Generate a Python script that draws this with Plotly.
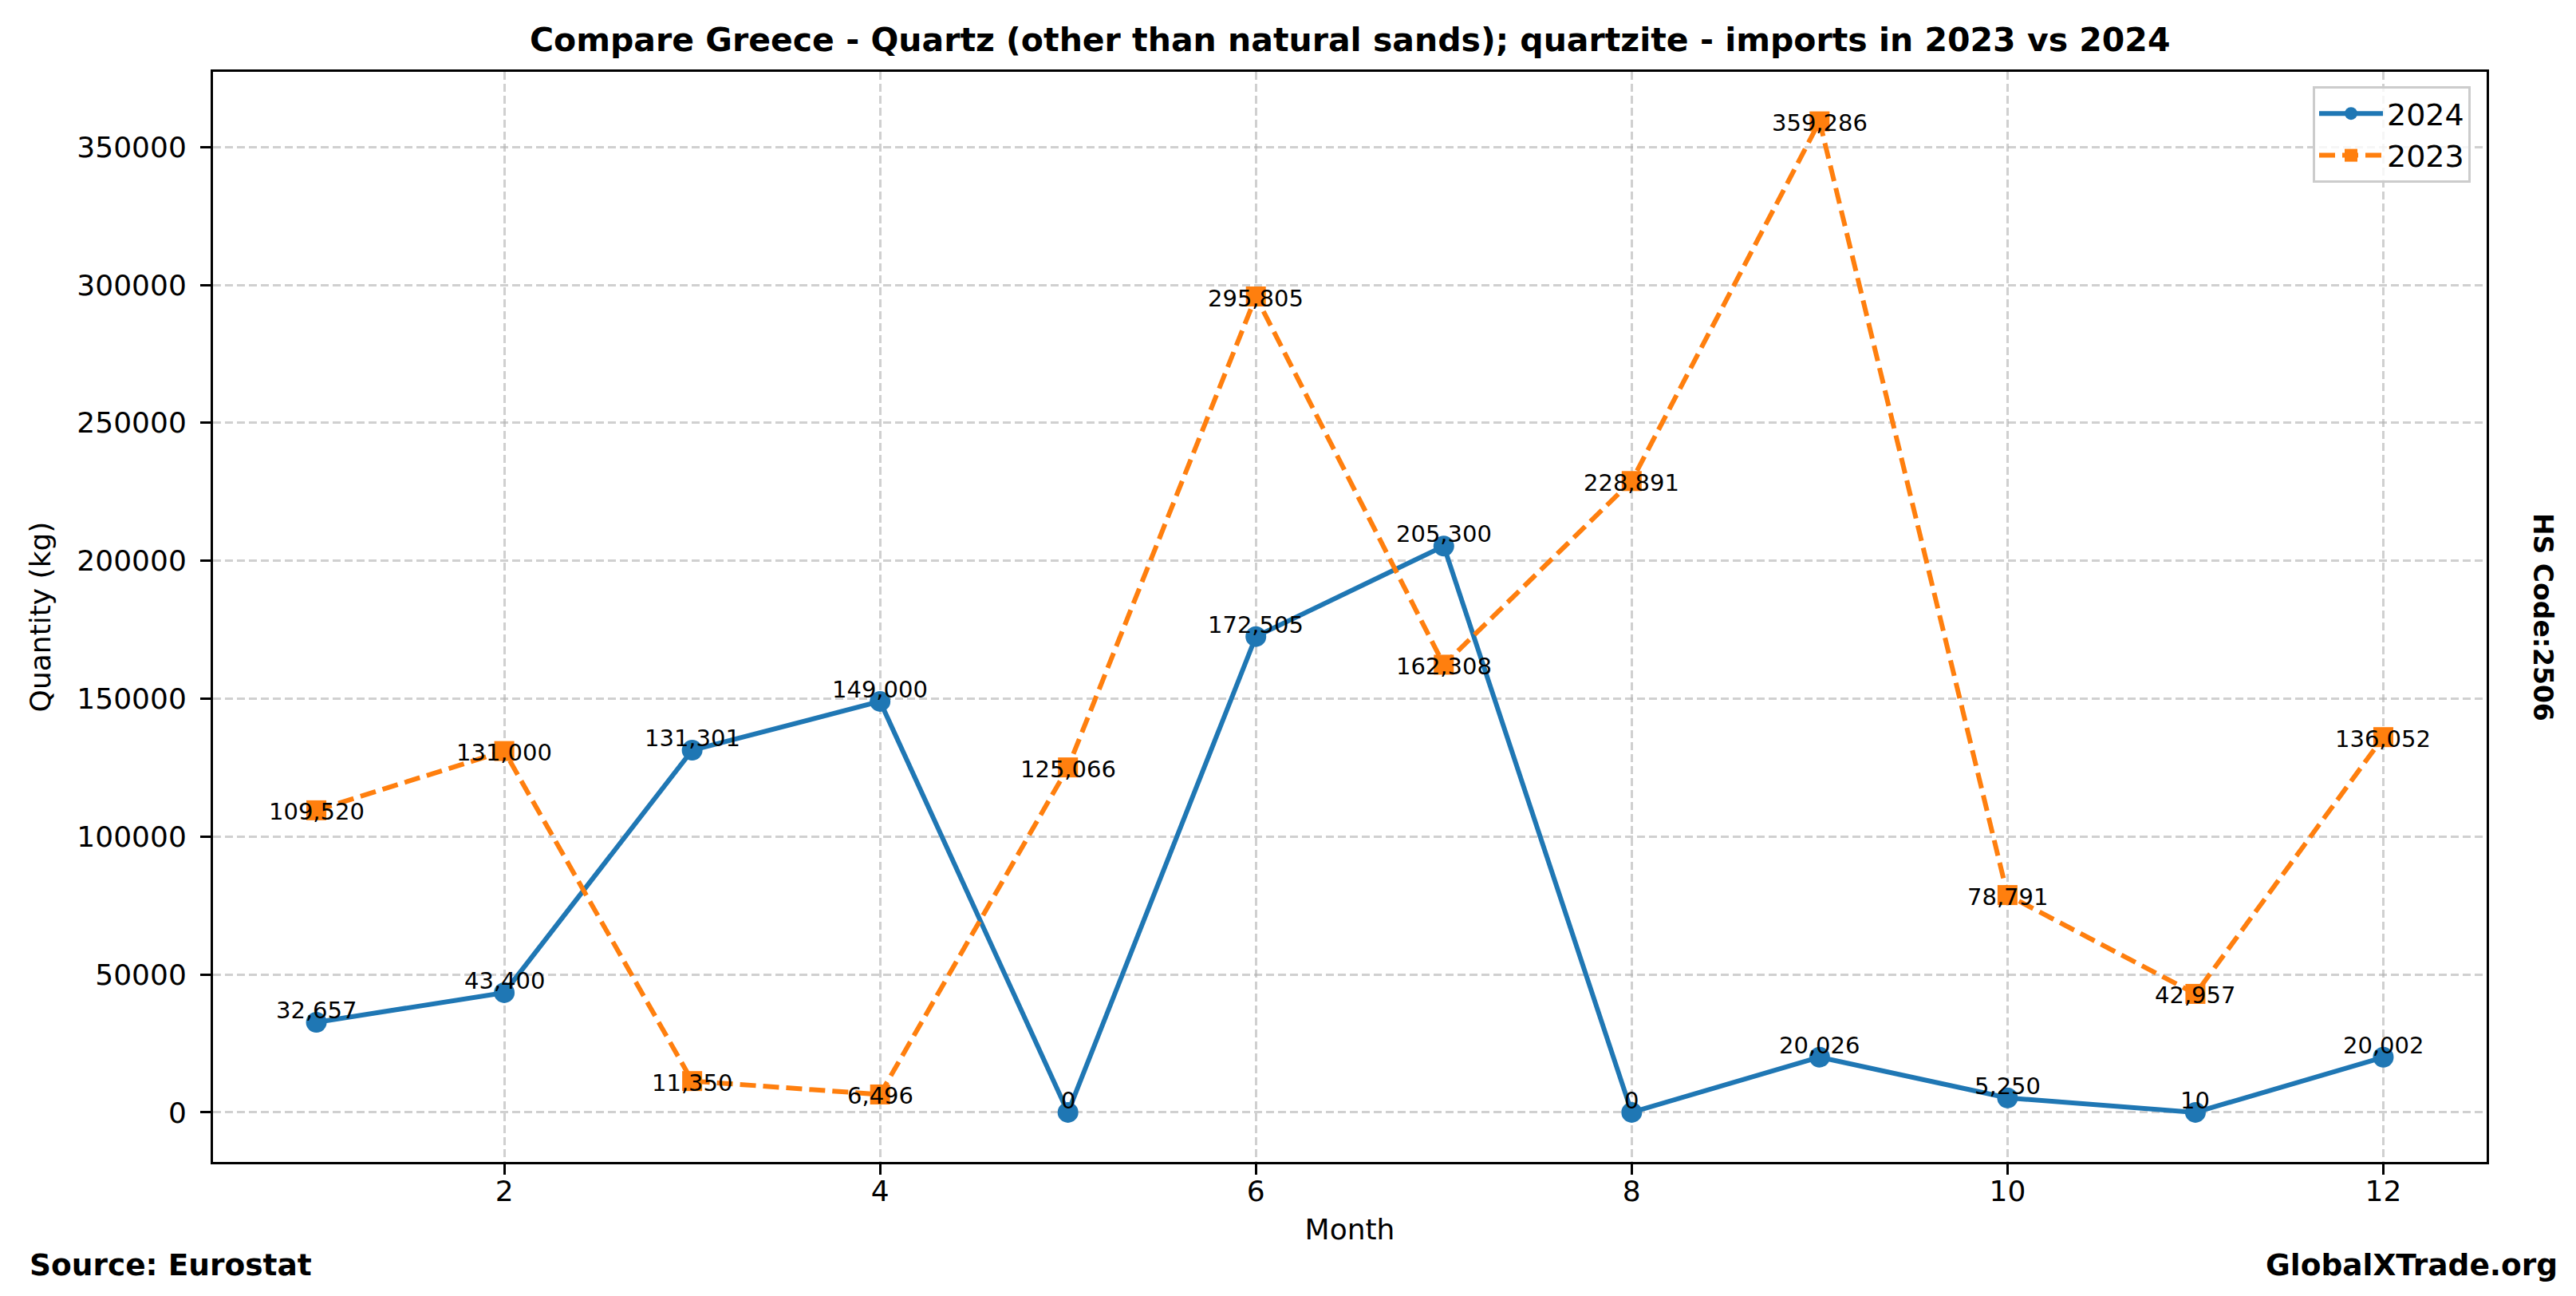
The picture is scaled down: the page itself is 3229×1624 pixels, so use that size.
import plotly.graph_objects as go

months = [1, 2, 3, 4, 5, 6, 7, 8, 9, 10, 11, 12]
values_2024 = [32657, 43400, 131301, 149000, 0, 172505, 205300, 0, 20026, 5250, 10, 20002]
values_2023 = [109520, 131000, 11350, 6496, 125066, 295805, 162308, 228891, 359286, 78791, 42957, 136052]
x_ticks = [2, 4, 6, 8, 10, 12]
y_ticks = [0, 50000, 100000, 150000, 200000, 250000, 300000, 350000]

FONT = "DejaVu Sans"
BLUE = "#1f77b4"
ORANGE = "#ff7f0e"

W, H = 3229, 1624
L, R, T, B = 259, 120, 82, 176
pw, ph = W - L - R, H - T - B


def px_x(p):
    return (p - L) / pw


def px_y(p):
    return (H - B - p) / ph


fig = go.Figure()
fig.add_trace(go.Scatter(
    x=months, y=values_2024, name="2024", mode="lines+markers",
    line=dict(color=BLUE, width=6),
    marker=dict(symbol="circle", size=26, color=BLUE),
))
fig.add_trace(go.Scatter(
    x=months, y=values_2023, name="2023", mode="lines+markers",
    line=dict(color=ORANGE, width=6, dash="20px,9px"),
    marker=dict(symbol="square", size=25, color=ORANGE),
))

annotations = []
for m, v in zip(months, values_2024):
    annotations.append(dict(x=m, y=v, xref="x", yref="y", text=f"{v:,}", showarrow=False,
                            xanchor="center", yanchor="bottom", yshift=-4,
                            font=dict(family=FONT, size=29, color="black")))
for m, v in zip(months, values_2023):
    annotations.append(dict(x=m, y=v, xref="x", yref="y", text=f"{v:,}", showarrow=False,
                            xanchor="center", yanchor="middle", yshift=-2,
                            font=dict(family=FONT, size=29, color="black")))

annotations.append(dict(x=0.5, y=1, xref="paper", yref="paper", yshift=14, showarrow=False,
                        xanchor="center", yanchor="bottom",
                        text="<b>Compare Greece - Quartz (other than natural sands); quartzite - imports in 2023 vs 2024</b>",
                        font=dict(family=FONT, size=41, color="black")))
annotations.append(dict(x=px_x(3180), y=px_y(765), xref="paper", yref="paper", showarrow=False,
                        textangle=90, xanchor="center", yanchor="middle",
                        text="<b>HS Code:2506</b>", font=dict(family=FONT, size=33, color="black")))
annotations.append(dict(x=px_x(27), y=px_y(1577), xref="paper", yref="paper", showarrow=False,
                        xanchor="left", yanchor="middle", text="<b>Source: Eurostat</b>",
                        font=dict(family=FONT, size=37.5, color="black")))
annotations.append(dict(x=px_x(3200), y=px_y(1577), xref="paper", yref="paper", showarrow=False,
                        xanchor="right", yanchor="middle", text="<b>GlobalXTrade.org</b>",
                        font=dict(family=FONT, size=37.5, color="black")))
fig.update_layout(annotations=annotations)

axis_common = dict(
    showline=True, linecolor="black", linewidth=3, mirror=True,
    ticks="outside", ticklen=13, tickwidth=3, tickcolor="black",
    showgrid=True, gridcolor="rgba(176,176,176,0.6)", gridwidth=3, griddash="10px,5px",
    zeroline=False,
    tickfont=dict(family=FONT, size=36, color="black"),
    title_font=dict(family=FONT, size=36, color="black"),
)

fig.update_xaxes(range=[0.45, 12.55], tickvals=x_ticks, ticktext=[str(t) for t in x_ticks],
                 title_text="Month", title_standoff=16, ticklabelstandoff=-10, **axis_common)
fig.update_yaxes(range=[-17964, 377250], tickvals=y_ticks, tickformat="d",
                 title_text="Quantity (kg)", title_standoff=22, ticklabelstandoff=10, **axis_common)

fig.update_layout(
    width=W, height=H,
    margin=dict(l=L, r=R, t=T, b=B, autoexpand=False),
    paper_bgcolor="white", plot_bgcolor="white",
    font=dict(family=FONT, size=36, color="black"),
    showlegend=True,
    legend=dict(x=px_x(3089), y=px_y(100), xanchor="right", yanchor="top",
                bgcolor="rgba(255,255,255,0.8)", bordercolor="#cccccc", borderwidth=3,
                font=dict(family=FONT, size=38, color="black"),
                tracegroupgap=0, itemwidth=80),
)

fig.write_html("out.html")
